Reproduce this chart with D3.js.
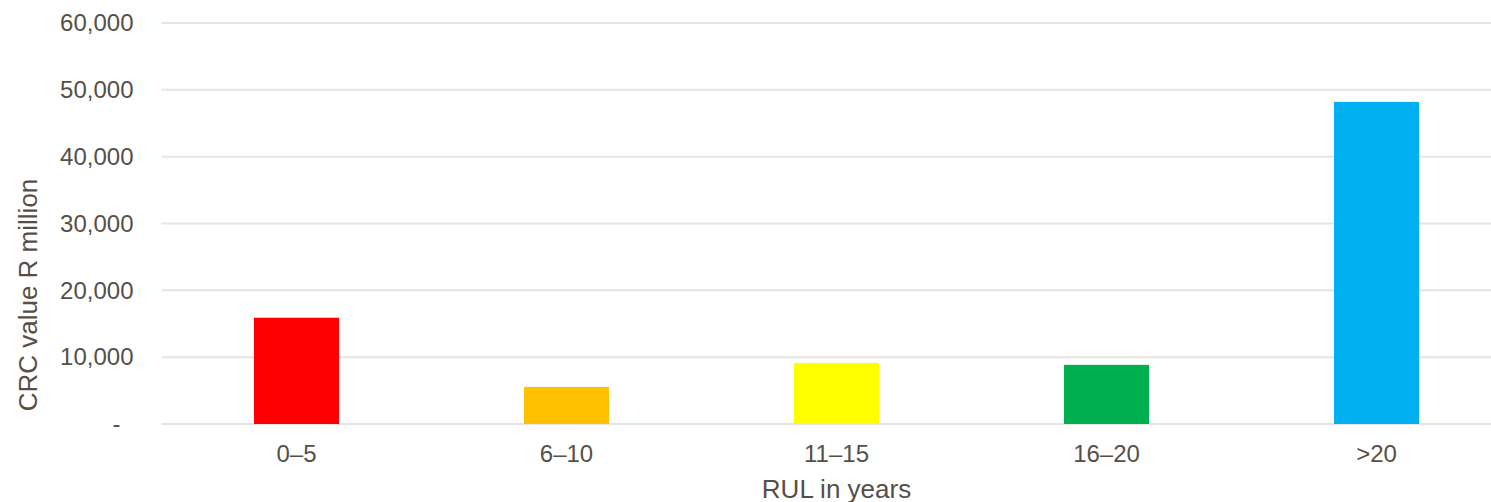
<!DOCTYPE html>
<html>
<head>
<meta charset="utf-8">
<script src="https://cdn.jsdelivr.net/npm/d3@7"></script>
<style>
  body { margin: 0; background: #fff; }
  text { font-family: "Liberation Sans", Arial, sans-serif; fill: #564f48; }
  .tick text { font-size: 24px; }
  .axisTitle { font-size: 26px; }
  .grid line { stroke: #e8e4e1; stroke-width: 2; }
</style>
</head>
<body>
<div id="chart"></div>
<script>
// data
const categories = ["0–5", "6–10", "11–15", "16–20", ">20"];
const values = [15900, 5550, 9150, 8850, 48200];
const barColours = ["#ff0000", "#ffc000", "#ffff00", "#00b050", "#00b0f0"];
const yTicks = [0, 10000, 20000, 30000, 40000, 50000, 60000];

// setup
const width = 1491;
const height = 502;
const margin = {top: 23, left: 161.5, bottom: 78};
const plotWidth = 1350;
const plotHeight = height - margin.top - margin.bottom;

const svg = d3.select("#chart").append("svg")
    .attr("width", width)
    .attr("height", height);

const g = svg.append("g")
    .attr("transform", `translate(${margin.left},${margin.top})`);

// scales
const x = d3.scaleBand()
    .domain(categories)
    .range([0, plotWidth])
    .paddingInner(0.685)
    .paddingOuter(0.3425);

const y = d3.scaleLinear()
    .domain([0, 60000])
    .range([plotHeight, 0]);

// gridlines
g.append("g")
    .attr("class", "grid")
  .selectAll("line")
  .data(yTicks)
    .enter()
  .append("line")
    .attr("x1", 0)
    .attr("x2", plotWidth)
    .attr("y1", d => y(d))
    .attr("y2", d => y(d));

// y axis
const yAxis = g.append("g")
    .call(d3.axisLeft(y)
      .tickValues(yTicks)
      .tickSize(0)
      .tickPadding(28)
      .tickFormat(d => d === 0 ? "-" : d3.format(",")(d)));
yAxis.select(".domain").remove();
yAxis.selectAll(".tick text")
    .attr("fill", "#564f48")
    .attr("dx", d => d === 0 ? -13 : 0);

// x axis
const xAxis = g.append("g")
    .attr("transform", `translate(0,${plotHeight})`)
    .call(d3.axisBottom(x).tickSize(0).tickPadding(21));
xAxis.select(".domain").remove();
xAxis.selectAll(".tick text").attr("fill", "#564f48");

// bars
g.selectAll("rect.bar")
  .data(values)
    .enter()
  .append("rect")
    .attr("class", "bar")
    .attr("x", (d, i) => x(categories[i]))
    .attr("width", x.bandwidth())
    .attr("y", d => y(d))
    .attr("height", d => y(0) - y(d))
    .attr("fill", (d, i) => barColours[i]);

// titles
svg.append("text")
    .attr("class", "axisTitle")
    .attr("text-anchor", "middle")
    .attr("x", margin.left + x(categories[2]) + x.bandwidth() / 2)
    .attr("y", 498)
    .text("RUL in years");

svg.append("text")
    .attr("class", "axisTitle")
    .attr("text-anchor", "middle")
    .attr("transform", "translate(37,295) rotate(-90)")
    .text("CRC value R million");
</script>
</body>
</html>
